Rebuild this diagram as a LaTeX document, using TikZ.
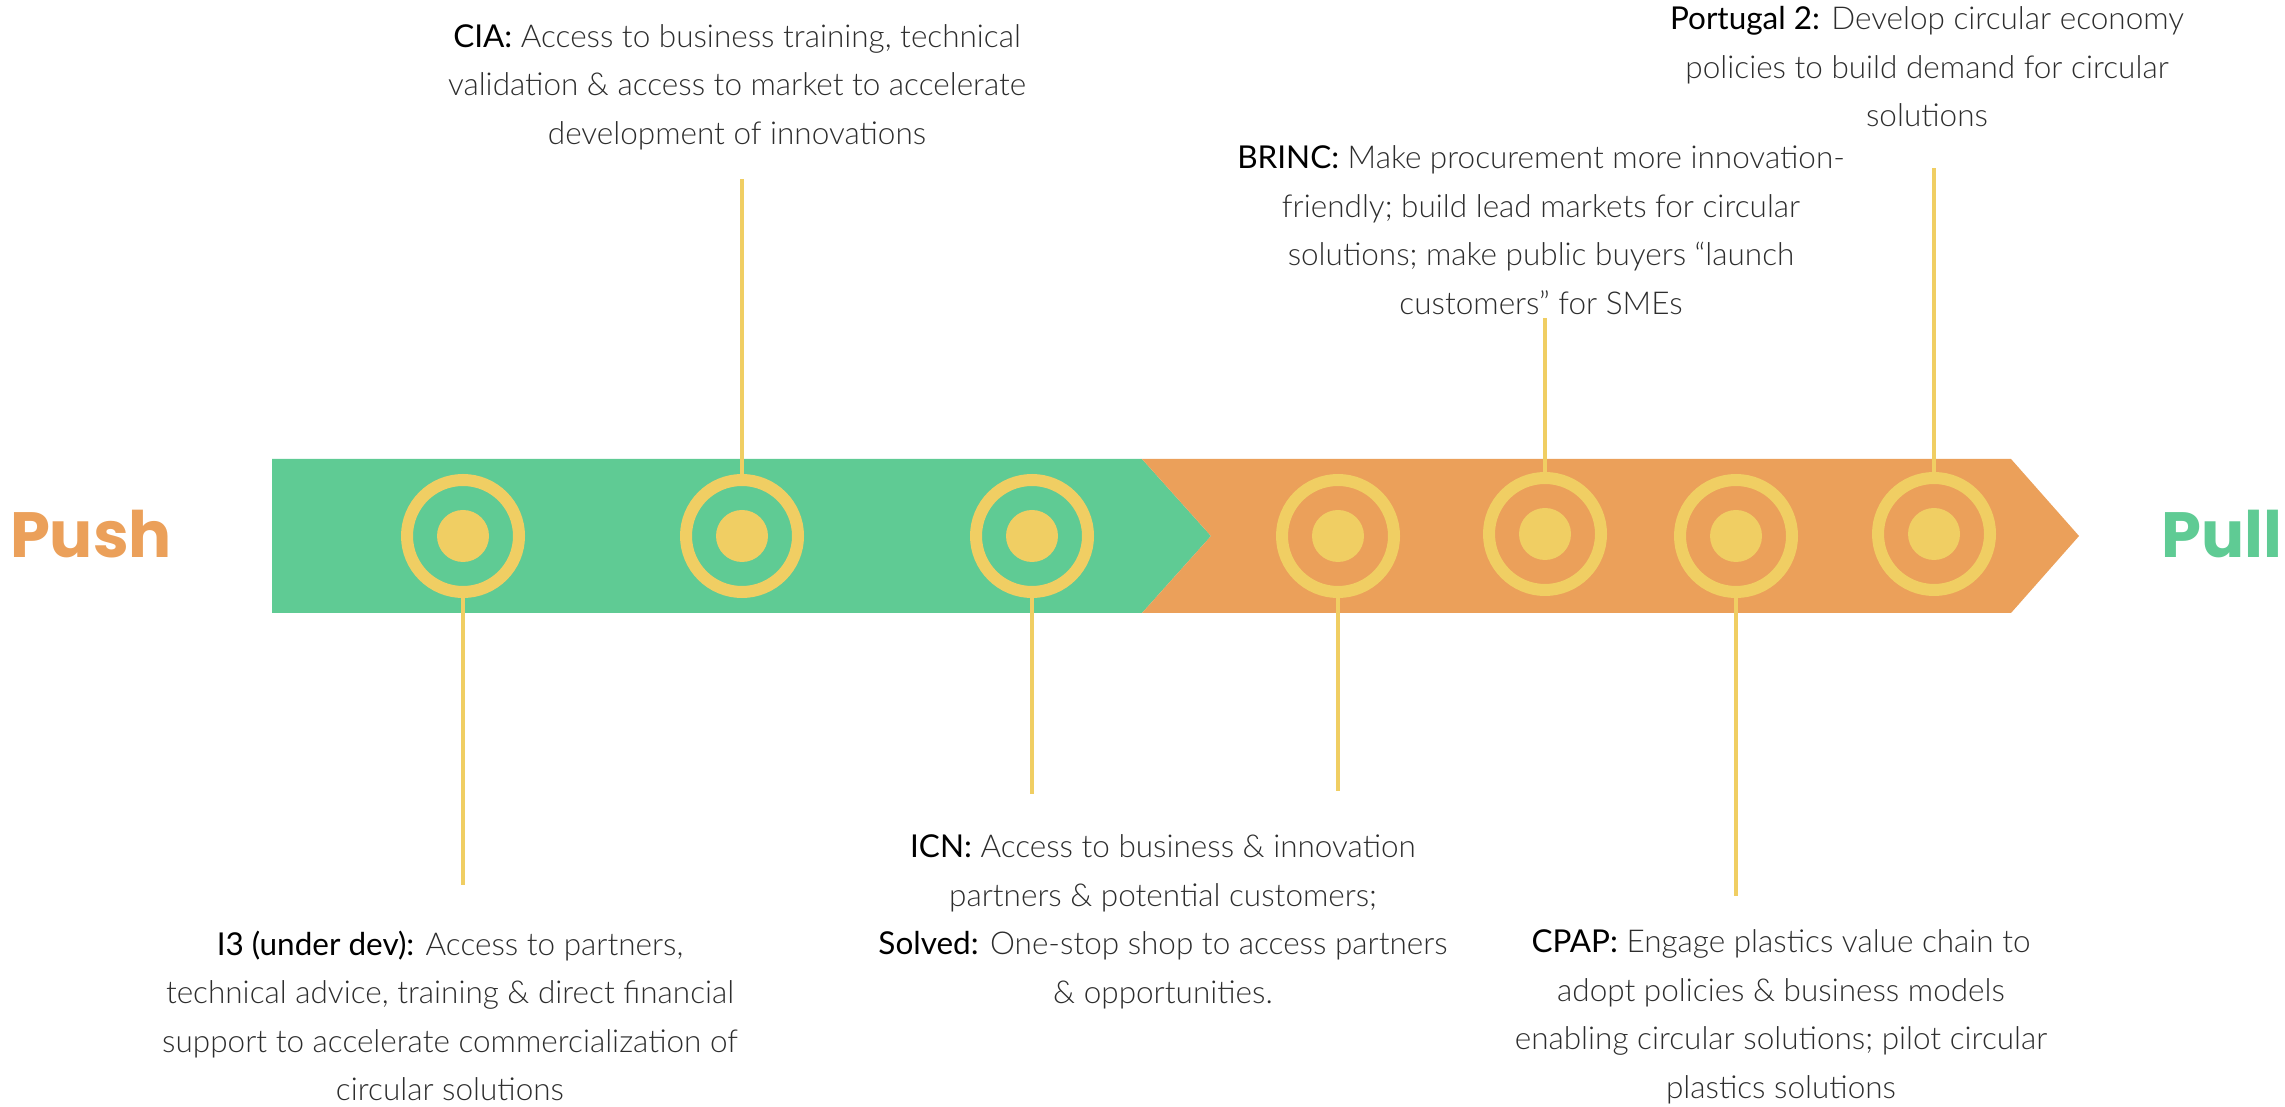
\documentclass[tikz,border=0pt]{standalone}
\usepackage{fontspec}
\setmainfont{Lato}
\newfontfamily\lightfont{Lato Light}
\newfontfamily\pushfont{Poppins}
\usepackage{xcolor}
\definecolor{pushgreen}{RGB}{95,203,148}
\definecolor{pullorange}{RGB}{235,160,90}
\definecolor{ringyellow}{RGB}{240,206,99}
\definecolor{bodygray}{RGB}{45,45,45}
\newcommand{\prog}[1]{{\normalfont\color{black}#1:}}

\begin{document}
\begin{tikzpicture}[x=1pt, y=1pt,
    ring/.style={circle, draw=ringyellow, line width=12pt, minimum size=112pt, inner sep=0pt},
    stem/.style={draw=ringyellow, line width=3.5pt},
    note/.style={align=center, inner sep=0pt, text=bodygray, font=\lightfont\fontsize{31.5}{48.5}\selectfont},
    side/.style={inner sep=0pt, font=\pushfont\bfseries\fontsize{64}{64}\selectfont}]
\useasboundingbox (0,0) rectangle (2285,1106);

% Band
\fill[pushgreen] (272,647) -- (1142,647) -- (1211,570) -- (1142,493) -- (272,493) -- cycle;
\fill[pullorange] (1142,647) -- (2011,647) -- (2079,570) -- (2011,493) -- (1142,493) -- (1211,570) -- cycle;

% Nodes
\node[side, text=pullorange] (push) at (91,572) {Push};
\node[side, text=pushgreen] (pull) at (2222,572) {Pull};

\node[ring] (i3) at (463,570) {};
\node[ring] (cia) at (742,570) {};
\node[ring] (icn) at (1032,570) {};
\node[ring] (solved) at (1338,570) {};
\node[ring] (brinc) at (1545,572) {};
\node[ring] (cpap) at (1736,570) {};
\node[ring] (pt2) at (1934,572) {};
\foreach \r in {i3,cia,icn,solved,brinc,cpap,pt2}
  \fill[ringyellow] (\r) circle (26);

\node[note] (cia-text) at (737,1019) {\prog{CIA} Access to business training, technical\\validation \& access to market to accelerate\\development of innovations};
\node[note] (pt2-text) at (1927,1039) {\prog{Portugal 2} Develop circular economy\\policies to build demand for circular\\solutions};
\node[note] (brinc-text) at (1541,876) {\prog{BRINC} Make procurement more innovation-\\friendly; build lead markets for circular\\solutions; make public buyers “launch\\customers” for SMEs};
\node[note] (i3-text) at (450,90) {\prog{I3 (under dev)} Access to partners,\\technical advice, training \& direct financial\\support to accelerate commercialization of\\circular solutions};
\node[note] (icn-text) at (1163,184) {\prog{ICN} Access to business \& innovation\\partners \& potential customers;\\\prog{Solved} One-stop shop to access partners\\\& opportunities.};
\node[note] (cpap-text) at (1781,89) {\prog{CPAP} Engage plastics value chain to\\adopt policies \& business models\\enabling circular solutions; pilot circular\\plastics solutions};

\coordinate (i3-end) at (463,221);
\coordinate (cia-end) at (742,927);
\coordinate (icn-end) at (1032,312);
\coordinate (solved-end) at (1338,315);
\coordinate (brinc-end) at (1545,788);
\coordinate (cpap-end) at (1736,210);
\coordinate (pt2-end) at (1934,938);

% Lines
\draw[stem] (i3.south) -- (i3-end);
\draw[stem] (cia.north) -- (cia-end);
\draw[stem] (icn.south) -- (icn-end);
\draw[stem] (solved.south) -- (solved-end);
\draw[stem] (brinc.north) -- (brinc-end);
\draw[stem] (cpap.south) -- (cpap-end);
\draw[stem] (pt2.north) -- (pt2-end);
\end{tikzpicture}
\end{document}
